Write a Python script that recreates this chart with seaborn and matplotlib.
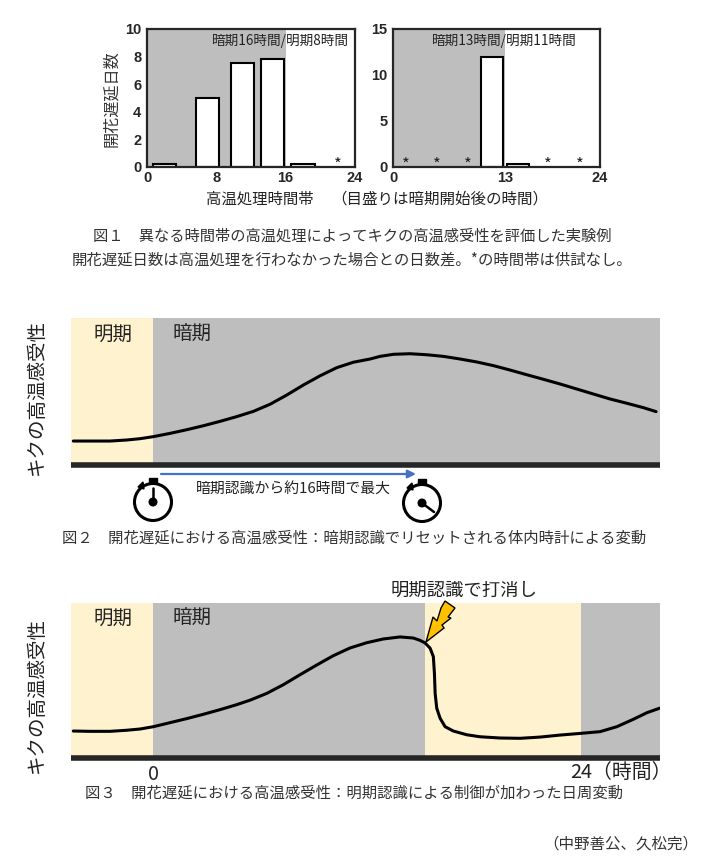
import matplotlib.pyplot as plt
import pandas as pd
import seaborn as sns
from matplotlib.patches import Circle, Polygon, Rectangle

FIG_W, FIG_H = 705, 865
GREY = "#BEBEBE"
CREAM = "#FFF2CF"
FONT = ["Noto Sans CJK JP", "DejaVu Sans"]

# Figure 1: bars
left_times = [2, 7, 11, 14.5, 18]
left_days = [0.2, 5, 7.5, 7.8, 0.2]
left_stars = [22]
right_times = [11.5, 14.5]
right_days = [12, 0.3]
right_stars = [1.5, 5.1, 8.7, 18, 21.7]

# Figure 2: sensitivity curve
hours_a = [-4.47, -3.53, -2.41, -1.48, -0.73, 0.02, 0.95, 1.89, 2.82, 3.76, 4.69, 5.63, 6.56, 7.50,
           8.43, 9.37, 10.30, 11.23, 12.17, 12.73, 13.48, 14.41, 15.35, 16.28, 17.22, 18.15, 19.09,
           20.02, 20.96, 21.89, 22.83, 23.76, 24.69, 25.63, 26.57, 27.50, 28.21]
sens_a = [16.3, 16.3, 16.3, 17.0, 17.9, 19.3, 21.5, 24.0, 26.7, 29.7, 32.9, 36.5, 41.3, 47.6,
          54.4, 60.7, 66.2, 69.9, 72.1, 73.9, 75.3, 75.7, 75.0, 73.9, 72.1, 70.1, 67.6,
          64.6, 61.4, 58.3, 55.1, 51.7, 48.3, 44.9, 42.0, 39.0, 36.3]

# Figure 3: sensitivity curve with light break
hours_b = [-4.47, -3.53, -2.41, -1.48, -0.73, 0.02, 0.95, 1.89, 2.82, 3.76, 4.69, 5.44, 6.38, 7.31,
           8.24, 9.18, 10.11, 11.05, 11.99, 12.92, 13.85, 14.60, 14.97, 15.25, 15.54, 15.72, 15.78,
           15.82, 15.91, 16.10, 16.38, 16.84, 17.59, 18.34, 19.46, 20.58, 21.71, 22.83, 23.99,
           25.07, 26.01, 26.94, 27.69, 28.40]
sens_b = [17.4, 17.2, 17.2, 17.9, 18.7, 20.2, 22.8, 25.4, 28.2, 31.2, 34.4, 37.3, 41.7, 47.3,
          53.7, 60.0, 66.0, 71.0, 74.4, 76.8, 78.1, 77.4, 75.9, 74.3, 70.8, 65.4, 54.6,
          41.7, 32.1, 25.6, 20.2, 17.4, 15.0, 13.7, 12.9, 12.7, 13.5, 14.8, 15.9,
          17.0, 20.2, 25.0, 29.2, 32.1]


def px_axes(fig, left, top, right, bottom):
    return fig.add_axes([left / FIG_W, 1 - bottom / FIG_H, (right - left) / FIG_W, (bottom - top) / FIG_H])


def bar_panel(fig, box, times, days, stars, dark_end, ymax, yticks, xticks, width):
    ax = px_axes(fig, *box)
    ax.axvspan(0, dark_end, color=GREY, lw=0, zorder=0)
    df = pd.DataFrame({"time": times, "days": days})
    sns.barplot(data=df, x="time", y="days", native_scale=True, width=width, color="white",
                edgecolor="black", linewidth=1.5, saturation=1, ax=ax, zorder=2)
    for s in stars:
        ax.text(s, ymax * 0.015, "*", ha="center", va="center", fontsize=12, color="#222222", zorder=3)
    ax.set_xlim(0, 24)
    ax.set_ylim(0, ymax)
    ax.set_xticks(xticks)
    ax.set_yticks(yticks)
    ax.tick_params(axis="x", direction="in", length=3, width=1.2, labelsize=10.5, pad=3)
    ax.tick_params(axis="y", direction="out", length=2, width=1.2, labelsize=10.5, pad=2)
    for label in ax.get_xticklabels() + ax.get_yticklabels():
        label.set_family("Liberation Sans")
        label.set_fontweight("bold")
    ax.set_xlabel("")
    ax.set_ylabel("")
    for spine in ax.spines.values():
        spine.set_visible(True)
        spine.set_linewidth(1.6)
    return ax


def curve_panel(fig, box, hours, sens, spans, ticks, ticklabels):
    ax = px_axes(fig, *box)
    for start, end, colour in spans:
        ax.axvspan(start, end, color=colour, lw=0, zorder=0)
    sns.lineplot(x=hours, y=sens, color="black", linewidth=2.2, ax=ax, zorder=3)
    ax.set_xlim(-4.6, 28.43)
    ax.set_ylim(0, 100)
    ax.set_xticks(ticks)
    ax.set_xticklabels(ticklabels)
    ax.set_yticks([])
    ax.tick_params(axis="x", direction="in", length=8, width=2.2, labelsize=14.3, pad=4)
    for side in ["left", "right", "top"]:
        ax.spines[side].set_visible(False)
    ax.spines["bottom"].set_linewidth(4)
    ax.spines["bottom"].set_capstyle("butt")
    return ax


def stopwatch(ov, x, y, hand_x, hand_y):
    ov.add_patch(Circle((x, y), 18.5, fill=False, ec="black", lw=2.2))
    ov.add_patch(Rectangle((x - 4, y - 24), 8, 5, color="black"))
    ov.add_patch(Polygon([(x - 15, y - 15), (x - 10, y - 20), (x - 9, y - 13)], color="black"))
    ov.add_patch(Circle((x, y), 3.8, color="black"))
    ov.plot([x, hand_x], [y, hand_y], color="black", lw=1.8)


def main():
    sns.set_theme(style="white")
    plt.rcParams["font.family"] = FONT
    fig = plt.figure(figsize=(FIG_W / 100, FIG_H / 100), dpi=100)

    ax1 = bar_panel(fig, (147, 29, 355, 167), left_times, left_days, left_stars, 16, 10,
                    [0, 2, 4, 6, 8, 10], [0, 8, 16, 24], 0.77)
    ax2 = bar_panel(fig, (393, 29, 600, 167), right_times, right_days, right_stars, 13, 15,
                    [0, 5, 10, 15], [0, 13, 24], 0.83)
    ax1.text(0.97, 0.915, "暗期16時間/明期8時間", transform=ax1.transAxes, ha="right", va="center",
             fontsize=9.8, color="#222222")
    ax2.text(0.536, 0.915, "暗期13時間/明期11時間", transform=ax2.transAxes, ha="center", va="center",
             fontsize=9.8, color="#222222")

    curve_panel(fig, (71, 318, 660, 465), hours_a, sens_a,
                [(-4.6, 0, CREAM), (0, 28.43, GREY)], [0], [""])
    curve_panel(fig, (71, 603, 660, 758), hours_b, sens_b,
                [(-4.6, 0, CREAM), (0, 15.25, GREY), (15.25, 24, CREAM), (24, 28.43, GREY)],
                [0, 24], ["0", ""])

    # free text and drawings in pixel coordinates
    ov = fig.add_axes([0, 0, 1, 1], zorder=10)
    ov.set_xlim(0, FIG_W)
    ov.set_ylim(FIG_H, 0)
    ov.axis("off")

    ov.text(112, 99, "開花遅延日数", rotation=90, ha="center", va="center", fontsize=11.6, color="#333333")
    ov.text(206, 199, "高温処理時間帯", ha="left", va="center", fontsize=11.1, color="#222222")
    ov.text(331, 199, "（目盛りは暗期開始後の時間）", ha="left", va="center", fontsize=11.2, color="#222222")

    ov.text(93, 236, "図１　異なる時間帯の高温処理によってキクの高温感受性を評価した実験例",
            ha="left", va="center", fontsize=11, color="#333333")
    ov.text(72, 260, "開花遅延日数は高温処理を行わなかった場合との日数差。*の時間帯は供試なし。",
            ha="left", va="center", fontsize=11.1, color="#333333")

    ov.text(36, 397, "キクの高温感受性", rotation=90, ha="center", va="center", fontsize=14, color="#222222")
    ov.text(36, 695, "キクの高温感受性", rotation=90, ha="center", va="center", fontsize=14, color="#222222")
    for y in (334, 618):
        ov.text(113, y, "明期", ha="center", va="center", fontsize=14, color="#222222")
        ov.text(192, y, "暗期", ha="center", va="center", fontsize=14, color="#222222")

    ov.annotate("", xy=(416, 474), xytext=(161, 474),
                arrowprops=dict(arrowstyle="-|>", color="#4472C4", lw=1.6, shrinkA=0, shrinkB=0))
    ov.text(293, 489, "暗期認識から約16時間で最大", ha="center", va="center", fontsize=10.7, color="#222222")
    stopwatch(ov, 153, 502, 153, 488)
    stopwatch(ov, 422, 503, 434, 512)

    ov.text(62, 538, "図２　開花遅延における高温感受性：暗期認識でリセットされる体内時計による変動",
            ha="left", va="center", fontsize=11.05, color="#333333")

    ov.text(464, 591, "明期認識で打消し", ha="center", va="center", fontsize=13.2, color="#222222")
    ov.add_patch(Polygon([(426, 642), (433, 617), (437, 621), (441, 608), (445, 601), (455, 608),
                          (448, 617), (451, 618), (442, 625), (444, 628)],
                         fc="#FFC000", ec="black", lw=1, zorder=5))
    ov.text(621, 772, "24（時間）", ha="center", va="center", fontsize=14.3, color="#222222")
    ov.text(85, 793, "図３　開花遅延における高温感受性：明期認識による制御が加わった日周変動",
            ha="left", va="center", fontsize=11.05, color="#333333")
    ov.text(698, 844, "（中野善公、久松完）", ha="right", va="center", fontsize=11.2, color="#333333")

    fig.savefig("out.png", dpi=100)
    plt.close(fig)


if __name__ == "__main__":
    main()
